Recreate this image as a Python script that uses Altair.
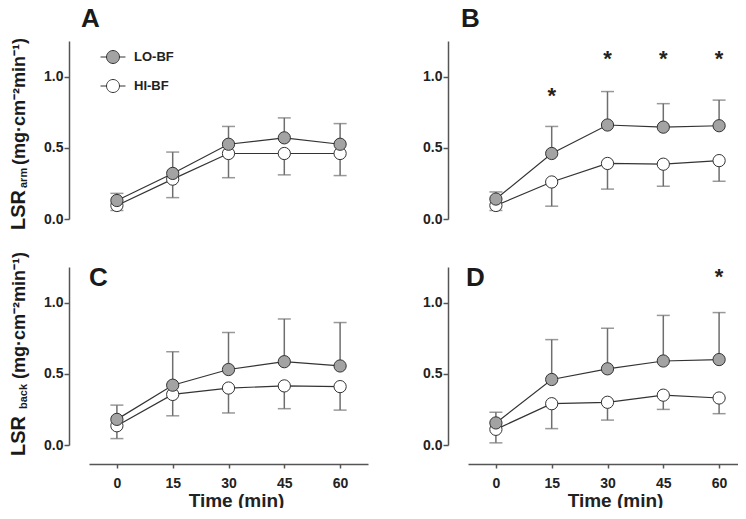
import altair as alt
import pandas as pd

# ---------------- data ----------------
times = [0, 15, 30, 45, 60]
series_names = ["LO-BF", "HI-BF"]

# Panel A: LSR arm, control
a_lo_mean = [0.13, 0.32, 0.525, 0.57, 0.525]
a_lo_upper = [0.18, 0.47, 0.65, 0.71, 0.67]
a_hi_mean = [0.095, 0.28, 0.46, 0.46, 0.46]
a_hi_lower = [0.06, 0.15, 0.29, 0.31, 0.305]

# Panel B: LSR arm, second condition
b_lo_mean = [0.14, 0.46, 0.66, 0.645, 0.655]
b_lo_upper = [0.19, 0.65, 0.895, 0.81, 0.835]
b_hi_mean = [0.095, 0.26, 0.39, 0.385, 0.41]
b_hi_lower = [0.06, 0.09, 0.21, 0.23, 0.265]
b_star_times = [15, 30, 45, 60]
b_star_pos = [0.88, 1.14, 1.14, 1.14]

# Panel C: LSR back, control
c_lo_mean = [0.18, 0.42, 0.53, 0.585, 0.555]
c_lo_upper = [0.28, 0.655, 0.79, 0.885, 0.86]
c_hi_mean = [0.135, 0.355, 0.40, 0.415, 0.41]
c_hi_lower = [0.045, 0.205, 0.225, 0.255, 0.245]

# Panel D: LSR back, second condition
d_lo_mean = [0.155, 0.46, 0.535, 0.59, 0.6]
d_lo_upper = [0.23, 0.74, 0.82, 0.91, 0.93]
d_hi_mean = [0.11, 0.29, 0.30, 0.35, 0.33]
d_hi_lower = [0.015, 0.115, 0.175, 0.25, 0.22]
d_star_times = [60]
d_star_pos = [1.195]

y_ticks = [0, 0.5, 1.0]
panel_letters = ["A", "B", "C", "D"]
y_unit = "(mg\u00b7cm\u207b\u00b2min\u207b\u00b9)"

# ---------------- styling ----------------
FONT = "Liberation Sans"
W_LEFT, W_RIGHT, H = 279, 270, 178
XDOM_LEFT = [-7.5, 67.5]
XDOM_RIGHT = [-7.5, -7.5 + 75 * W_RIGHT / W_LEFT]
YDOM = [0, 1.25]
EB = "#6e6e6e"
LINE = "#333333"
AXIS = "#555555"
LABEL = "#222222"
FILL_LO = "#a3a3a3"
LEGEND_SYMBOL = "M-1.92,0L-1,0M1,0L1.92,0M-1,0A1,1,0,1,1,1,0A1,1,0,1,1,-1,0Z"


def panel_df(lo_mean, lo_upper, hi_mean, hi_lower):
    rows = []
    for t, m, b in zip(times, hi_mean, hi_lower):
        rows.append({"time": t, "series": series_names[1], "mean": m, "bound": b})
    for t, m, b in zip(times, lo_mean, lo_upper):
        rows.append({"time": t, "series": series_names[0], "mean": m, "bound": b})
    return pd.DataFrame(rows)


def make_panel(df, letter, letter_xy, show_x, show_legend, width, xdom, ylabel=None, stars=None):
    y_axis = alt.Axis(
        values=y_ticks, format=".1f", title=None, grid=False, offset=20,
        domainColor=AXIS, domainWidth=1.5, tickColor=AXIS, tickWidth=1.5, tickSize=5,
        labelFont=FONT, labelFontSize=14, labelFontWeight="bold", labelColor=LABEL,
        labelPadding=1,
    )
    if show_x:
        x_axis = alt.Axis(
            values=times, title="Time (min)", grid=False, offset=19,
            domainColor=AXIS, domainWidth=1.5, tickColor=AXIS, tickWidth=1.5, tickSize=4,
            labelFont=FONT, labelFontSize=14, labelFontWeight="bold", labelColor=LABEL,
            labelPadding=8, labelFlush=False,
            titleFont=FONT, titleFontSize=19, titleFontWeight="bold", titleColor=LABEL,
            titleX=147, titleY=42, titleBaseline="alphabetic", titleAlign="center",
        )
    else:
        x_axis = None
    xs = alt.Scale(domain=xdom, nice=False, zero=False, padding=0)
    ys = alt.Scale(domain=YDOM, nice=False, zero=False, padding=0)
    x = alt.X("time:Q", scale=xs, axis=x_axis)
    y = alt.Y("mean:Q", scale=ys, axis=y_axis)

    base = alt.Chart(df)
    rules = base.mark_rule(color=EB, strokeWidth=1.5).encode(x=x, y=y, y2="bound:Q")
    caps = base.mark_tick(orient="horizontal", size=13, thickness=1.5, color=EB).encode(
        x=x, y=alt.Y("bound:Q", scale=ys, axis=y_axis)
    )
    lines = base.mark_line(color=LINE, strokeWidth=1.2).encode(x=x, y=y, detail="series:N")
    if show_legend:
        legend = alt.Legend(
            orient="none", legendX=17, legendY=9, title=None,
            symbolType=LEGEND_SYMBOL, symbolSize=169, symbolStrokeColor=LINE,
            symbolStrokeWidth=1, symbolOpacity=1, labelFont=FONT, labelFontSize=13,
            labelFontWeight="bold", labelColor=LABEL, labelOffset=14, rowPadding=11,
            padding=0,
        )
    else:
        legend = None
    points = base.mark_point(
        shape="circle", filled=True, size=150, stroke=LINE, strokeWidth=1, opacity=1
    ).encode(
        x=x, y=y,
        fill=alt.Fill("series:N", scale=alt.Scale(domain=series_names, range=[FILL_LO, "white"]),
                      legend=legend),
    )
    layers = [rules, caps, lines, points]

    if stars is not None:
        sdf = pd.DataFrame({"time": stars[0], "pos": stars[1]})
        layers.append(
            alt.Chart(sdf).mark_text(text="*", font=FONT, fontSize=22, fontWeight="bold",
                                     color=LABEL, baseline="middle", dy=2).encode(
                x=x, y=alt.Y("pos:Q", scale=ys, axis=y_axis)
            )
        )

    ldf = pd.DataFrame({"t": [letter]})
    layers.append(
        alt.Chart(ldf).mark_text(font=FONT, fontSize=26, fontWeight="bold", color="#1a1a1a",
                                 align="left", baseline="alphabetic").encode(
            x=alt.value(letter_xy[0]), y=alt.value(letter_xy[1]), text="t:N"
        )
    )

    if ylabel is not None:
        for txt, size, px, py in ylabel:
            tdf = pd.DataFrame({"t": [txt]})
            layers.append(
                alt.Chart(tdf).mark_text(font=FONT, fontSize=size, fontWeight="bold",
                                         color="#1a1a1a", angle=270, align="left",
                                         baseline="alphabetic").encode(
                    x=alt.value(px), y=alt.value(py), text="t:N"
                )
            )

    return alt.layer(*layers).properties(width=width, height=H)


ylab_arm = [("LSR", 20, -64, 189), ("arm", 11, -62, 147), (y_unit, 18, -64, 124)]
ylab_back = [("LSR", 20, -64, 189), ("back", 11, -62, 142), (y_unit, 18, -64, 112)]

pA = make_panel(panel_df(a_lo_mean, a_lo_upper, a_hi_mean, a_hi_lower), panel_letters[0],
                (-8, -14), False, True, W_LEFT, XDOM_LEFT, ylabel=ylab_arm)
pB = make_panel(panel_df(b_lo_mean, b_lo_upper, b_hi_mean, b_hi_lower), panel_letters[1],
                (-7, -14), False, False, W_RIGHT, XDOM_RIGHT, stars=(b_star_times, b_star_pos))
pC = make_panel(panel_df(c_lo_mean, c_lo_upper, c_hi_mean, c_hi_lower), panel_letters[2],
                (0, 19), True, False, W_LEFT, XDOM_LEFT, ylabel=ylab_back)
pD = make_panel(panel_df(d_lo_mean, d_lo_upper, d_hi_mean, d_hi_lower), panel_letters[3],
                (-2, 19), True, False, W_RIGHT, XDOM_RIGHT, stars=(d_star_times, d_star_pos))

chart = (
    alt.concat(pA, pB, pC, pD, columns=2, spacing=alt.RowColnumber(row=48, column=100),
               bounds="flush")
    .resolve_scale(fill="independent")
    .resolve_legend(fill="independent")
    .properties(padding={"left": 1, "top": -2, "right": 0, "bottom": -2}, background="white")
    .configure(font=FONT)
    .configure_view(stroke=None)
)

chart.save("out.html", embed_options={"renderer": "svg", "actions": False})
